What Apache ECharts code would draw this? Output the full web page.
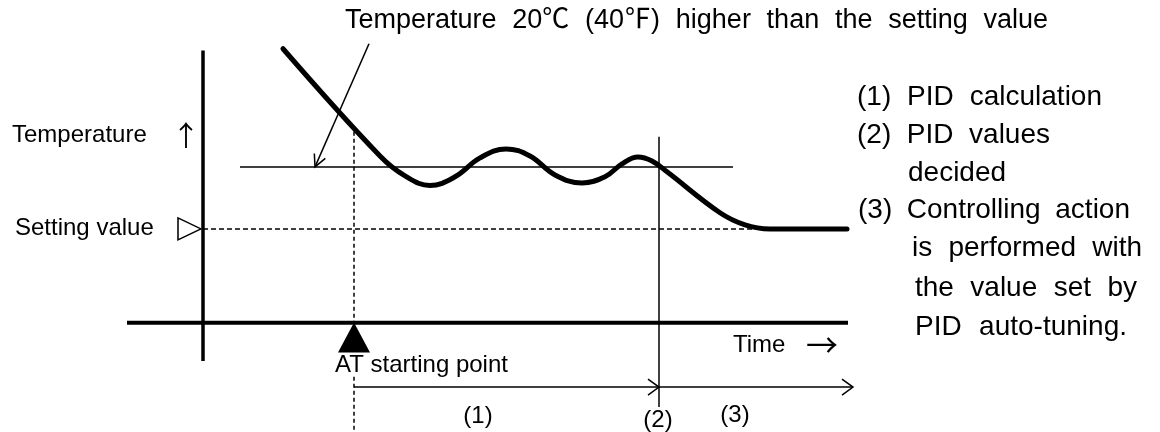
<!DOCTYPE html>
<html>
<head>
<meta charset="utf-8">
<script src="https://cdn.jsdelivr.net/npm/echarts@6/dist/echarts.min.js"></script>
<style>
  html, body { margin: 0; padding: 0; background: #fff; }
  #main { width: 1160px; height: 432px; }
</style>
</head>
<body>
<div id="main"></div>
<script>
  // time in arbitrary units (0 = temperature axis), temperature in ℃ relative to setting value
  var curveTime = [8.0, 17.7, 20.2, 22.7, 25.2, 27.7, 30.3, 32.7, 35.2, 37.9, 40.2, 41.9, 43.5, 44.9, 46.4, 51.7, 54.2, 56.7, 64.4];
  var curveTemp = [58.1, 23.5, 17.1, 14.0, 16.8, 22.9, 25.8, 23.5, 17.4, 14.8, 16.8, 21.0, 23.2, 21.9, 18.4, 5.2, 1.3, 0, 0];
  var setValue = 0;
  var upperValue = 20;          // 20℃ above setting value
  var upperRange = [3.7, 53];
  var setRange = [0, 55.2];
  var atStart = 15.1;           // AT starting point
  var pidDecided = 45.6;        // (2) PID values decided
  var timeEnd = 65;
  var timeAxisLevel = -30.3;
  var tempAxisRange = [-42.6, 57.5];
  var timeAxisRange = [-7.6, 64.5];
  var phaseLevel = -51;

  var titleText = 'Temperature 20℃ (40℉) higher than the setting value';
  var noteLines = ['(1) PID calculation', '(2) PID values', 'decided', '(3) Controlling action',
                   'is performed with', 'the value set by', 'PID auto-tuning.'];
  var phaseLabels = ['(1)', '(2)', '(3)'];

  var FONT = '"Liberation Sans", Arial, "Noto Sans CJK JP", sans-serif';
  var ctx = document.createElement('canvas').getContext('2d');

  function txt(s, x, y, size, align, family) {
    return {
      type: 'text', x: x, y: y, silent: true,
      style: {
        text: s, font: size + 'px ' + (family || FONT), fill: '#000',
        textAlign: align || 'left', align: align || 'left',
        textVerticalAlign: 'middle', verticalAlign: 'middle'
      }
    };
  }

  // words spread so the line runs from left to right (justified, like the original)
  function justify(s, left, right, y, size) {
    var words = s.split(' ');
    ctx.font = size + 'px ' + FONT;
    if (words.length < 2 || right == null) return [txt(s, left, y, size)];
    var w = words.map(function (d) { return ctx.measureText(d).width; });
    var sum = w.reduce(function (a, b) { return a + b; }, 0);
    var gap = (right - left - sum) / (words.length - 1);
    var out = [], x = left;
    words.forEach(function (d, i) {
      out.push(txt(d, x, y, size));
      x += w[i] + gap;
    });
    return out;
  }

  var noteLeft = [857, 857, 908, 858, 912, 915, 915];
  var noteRight = [1102, 1050, null, 1130, 1142, 1137, 1127];
  var noteY = [97, 135, 173, 210, 248, 288, 327];

  var graphics = [];
  graphics = graphics.concat(justify(titleText, 345, 1048, 21, 27));
  noteLines.forEach(function (l, i) {
    graphics = graphics.concat(justify(l, noteLeft[i], noteRight[i], noteY[i], 28));
  });
  graphics.push(txt('Temperature', 12, 135, 24));
  graphics.push(txt('↑', 186, 135, 28, 'center', '"Noto Sans CJK JP", sans-serif'));
  graphics.push(txt('Setting value', 15, 228, 24));
  graphics.push(txt('AT starting point', 335, 365, 24));
  graphics.push(txt('Time', 733, 345, 24));
  graphics.push(txt('→', 822, 345, 32, 'center', '"Noto Sans CJK JP", sans-serif'));
  graphics.push(txt(phaseLabels[0], 478, 416, 24, 'center'));
  graphics.push(txt(phaseLabels[1], 658, 420, 24, 'center'));
  graphics.push(txt(phaseLabels[2], 735, 415, 24, 'center'));

  function seg(data, width, dash) {
    return {
      type: 'line', data: data, symbol: 'none', silent: true, animation: false,
      lineStyle: { color: '#000', width: width, type: dash || 'solid', opacity: 1 }
    };
  }

  var myChart = echarts.init(document.getElementById('main'));
  var option = {
    animation: false,
    grid: { left: 3, right: 7, top: 1, bottom: 0 },
    xAxis: { type: 'value', min: -20, max: 95, show: false },
    yAxis: { type: 'value', min: -65.5, max: 73.5, show: false },
    graphic: graphics,
    series: [
      seg([[0, tempAxisRange[0]], [0, tempAxisRange[1]]], 3.5),
      seg([[timeAxisRange[0], timeAxisLevel], [timeAxisRange[1], timeAxisLevel]], 4),
      seg([[setRange[0], setValue], [setRange[1], setValue]], 1.5, [5, 3]),
      seg([[upperRange[0], upperValue], [upperRange[1], upperValue]], 1.5),
      seg([[atStart, 31.3], [atStart, timeAxisLevel]], 1.5, [4, 3]),
      seg([[atStart, -47.7], [atStart, -66]], 1.5, [4, 3]),
      seg([[pidDecided, 29.7], [pidDecided, -57.4]], 1.5),
      {
        type: 'line', smooth: 0.4, symbol: 'none', silent: true,
        data: curveTime.map(function (t, i) { return [t, curveTemp[i]]; }),
        lineStyle: { color: '#000', width: 5, cap: 'round', join: 'round', opacity: 1 }
      },
      {
        type: 'scatter', silent: true, symbol: 'triangle', symbolSize: [32, 30],
        data: [[atStart, -35]], itemStyle: { color: '#000', opacity: 1 }
      },
      {
        type: 'scatter', silent: true, symbol: 'triangle', symbolSize: [22, 23], symbolRotate: -90,
        data: [[-1.35, setValue]],
        itemStyle: { color: '#fff', borderColor: '#000', borderWidth: 1.5, opacity: 1 }
      },
      {
        // arrows with open heads
        type: 'custom', silent: true,
        data: [
          [16.6, 59.7, 11.2, upperValue],
          [atStart, phaseLevel, pidDecided, phaseLevel],
          [pidDecided, phaseLevel, timeEnd, phaseLevel]
        ],
        renderItem: function (params, api) {
          var p1 = api.coord([api.value(0), api.value(1)]);
          var p2 = api.coord([api.value(2), api.value(3)]);
          var ang = Math.atan2(p2[1] - p1[1], p2[0] - p1[0]);
          var len = params.dataIndex === 0 ? 12 : 11;
          var half = params.dataIndex === 0 ? 6 : 8;
          var bx = p2[0] - len * Math.cos(ang), by = p2[1] - len * Math.sin(ang);
          var nx = -Math.sin(ang) * half, ny = Math.cos(ang) * half;
          return {
            type: 'group',
            children: [
              { type: 'line', shape: { x1: p1[0], y1: p1[1], x2: p2[0], y2: p2[1] },
                style: { stroke: '#000', lineWidth: 1.5 } },
              { type: 'polyline', shape: { points: [[bx + nx, by + ny], p2, [bx - nx, by - ny]] },
                style: { stroke: '#000', fill: null, lineWidth: 1.5 } }
            ]
          };
        }
      }
    ]
  };
  myChart.setOption(option);
</script>
</body>
</html>
